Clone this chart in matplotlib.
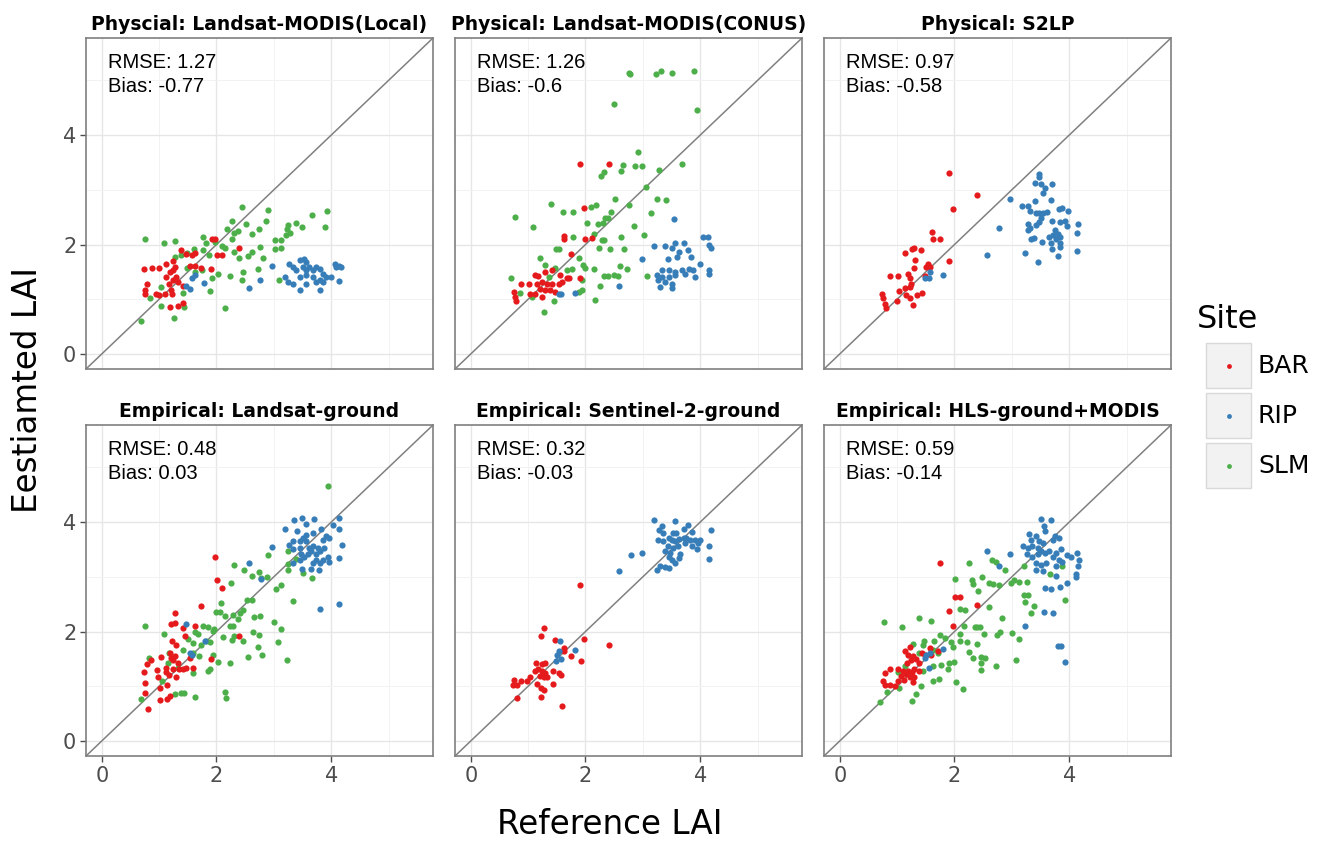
import numpy as np
import matplotlib
matplotlib.use("Agg")
import matplotlib.pyplot as plt
from matplotlib.patches import Rectangle

# panel titles and stats text, in facet order
titles = ["Physcial: Landsat-MODIS(Local)", "Physical: Landsat-MODIS(CONUS)", "Physical: S2LP",
          "Empirical: Landsat-ground", "Empirical: Sentinel-2-ground", "Empirical: HLS-ground+MODIS"]
rmse = ["1.27", "1.26", "0.97", "0.48", "0.32", "0.59"]
bias = ["-0.77", "-0.6", "-0.58", "0.03", "-0.03", "-0.14"]
sites = ["BAR", "RIP", "SLM"]
site_colors = {"BAR": "#E41A1C", "RIP": "#377EB8", "SLM": "#4DAF4A"}

# (reference, estimated) pairs
p1_bar = [(0.74,1.55),(0.87,1.58),(1.0,1.58),(0.78,1.28),(0.76,1.10),(0.75,1.16),(0.95,1.09),(1.0,1.08),
          (1.12,1.65),(1.25,1.70),(1.28,1.59),(1.12,1.41),(1.17,1.28),(1.21,1.16),(1.30,1.41),(1.25,1.35),
          (1.33,1.31),(1.19,1.50),(1.25,1.53),(1.41,1.25),(1.19,0.85),(1.33,0.87),(1.42,0.94),(1.39,1.90),
          (1.47,1.83),(1.57,1.80),(1.62,1.85),(1.53,1.61),(1.62,1.61),(1.73,1.58),(1.91,1.56),(1.92,2.11),
          (1.97,2.11),(2.01,1.80),(2.10,1.80),(2.40,1.94),(1.10,1.09),(1.23,1.10)]
p1_rip = [(2.97,1.61),(2.56,1.21),(2.76,1.35),(3.19,1.41),(3.27,1.65),(3.33,1.59),(3.39,1.53),(3.45,1.71),
          (3.52,1.74),(3.56,1.68),(3.51,1.59),(3.56,1.53),(3.62,1.59),(3.68,1.53),(3.74,1.59),(3.80,1.56),
          (3.85,1.47),(3.91,1.41),(3.80,1.35),(3.74,1.32),(3.56,1.28),(3.45,1.16),(3.80,1.16),(3.33,1.28),
          (3.24,1.32),(3.45,1.41),(3.56,1.44),(3.68,1.41),(3.85,1.32),(4.06,1.65),(4.14,1.60),(4.17,1.59),
          (3.99,1.41),(4.13,1.33),(4.09,1.59),(1.47,1.25),(1.53,1.19),(1.57,1.38),(1.79,1.30),(1.62,1.44)]
p1_slm = [(0.76,2.10),(1.08,2.02),(1.27,2.07),(0.69,0.61),(1.26,0.65),(2.15,0.84),(2.44,2.69),(2.90,2.64),
          (2.27,2.43),(2.52,2.37),(2.87,2.43),(2.19,2.28),(2.38,2.25),(2.74,2.29),(2.62,2.20),(1.77,2.13),
          (2.27,2.11),(2.30,2.21),(2.09,1.98),(2.14,1.94),(1.98,2.04),(1.82,2.03),(1.61,1.91),(1.48,1.85),
          (1.77,1.90),(1.87,1.80),(2.31,1.87),(2.39,1.75),(2.55,1.79),(2.62,1.87),(2.76,1.96),(3.02,2.08),
          (3.12,2.08),(3.22,2.17),(3.24,2.35),(3.23,2.28),(3.38,2.39),(3.49,2.32),(3.66,2.54),(3.93,2.62),
          (3.89,2.32),(3.28,2.21),(3.02,1.91),(3.13,1.94),(2.81,1.76),(2.73,1.55),(2.46,1.49),(2.24,1.43),
          (2.02,1.46),(1.92,1.38),(1.88,1.15),(1.75,1.53),(1.62,1.50),(1.48,1.57),(1.41,1.12),(1.43,0.86),
          (1.04,0.87),(1.04,1.22),(0.84,1.02),(3.09,1.35),(2.44,1.36),(1.39,1.80),(1.28,1.77)]

p2_bar = [(1.91,3.48),(2.41,3.48),(1.98,2.66),(1.62,2.16),(1.62,2.11),(1.99,2.11),(2.11,2.12),(1.75,1.82),
          (1.42,1.53),(1.12,1.44),(1.18,1.42),(1.30,1.50),(1.56,1.44),(1.67,1.39),(1.72,1.39),(1.91,1.38),
          (0.88,1.27),(1.02,1.27),(1.15,1.28),(1.24,1.31),(1.33,1.28),(1.41,1.28),(1.53,1.28),(1.59,1.31),
          (1.21,1.19),(1.30,1.16),(1.38,1.16),(1.12,1.10),(1.24,1.05),(0.76,1.13),(0.77,1.04),(0.78,0.97),
          (1.03,1.10),(1.47,1.13)]
p2_rip = [(3.54,2.47),(4.05,2.14),(4.13,2.14),(4.15,1.99),(4.19,1.94),(3.20,1.97),(3.39,1.97),(3.56,2.02),
          (3.71,2.02),(3.50,1.93),(3.63,1.87),(3.78,1.90),(3.59,1.77),(3.44,1.74),(3.84,1.77),(2.98,1.74),
          (3.99,1.65),(3.33,1.53),(3.45,1.53),(3.56,1.50),(3.68,1.53),(3.80,1.56),(3.87,1.53),(4.15,1.54),
          (4.16,1.47),(3.24,1.44),(3.33,1.41),(3.45,1.41),(3.56,1.44),(3.74,1.46),(3.91,1.41),(3.27,1.35),
          (3.39,1.32),(3.51,1.28),(3.30,1.22),(3.51,1.21),(2.58,1.25),(1.81,1.11),(1.53,1.10),(1.58,1.10)]
p2_slm = [(2.75,5.13),(2.78,5.11),(3.23,5.11),(3.32,5.17),(3.51,5.14),(3.90,5.17),(2.50,4.56),(3.95,4.45),
          (2.91,3.69),(2.66,3.46),(2.87,3.43),(2.99,3.43),(2.62,3.35),(2.32,3.33),(2.27,3.25),(3.28,3.36),
          (3.68,3.47),(3.06,3.06),(2.52,2.83),(3.24,2.84),(3.40,2.82),(2.76,2.72),(2.19,2.72),(2.10,2.69),
          (1.40,2.74),(1.60,2.59),(1.78,2.59),(2.44,2.60),(3.15,2.58),(0.77,2.50),(1.09,2.32),(2.34,2.48),
          (2.39,2.48),(2.30,2.40),(2.02,2.40),(2.21,2.37),(2.85,2.34),(3.02,2.18),(2.62,2.14),(1.78,2.13),
          (2.15,2.20),(2.28,2.09),(2.33,2.09),(2.24,1.94),(2.42,1.91),(2.67,1.91),(1.49,1.91),(1.53,1.91),
          (1.20,1.76),(1.88,1.76),(1.29,1.62),(1.46,1.58),(1.68,1.53),(1.77,1.56),(1.96,1.63),(1.99,1.58),
          (2.14,1.56),(2.60,1.60),(2.73,1.55),(2.33,1.43),(2.40,1.43),(2.49,1.44),(2.56,1.43),(3.08,1.43),
          (0.70,1.38),(1.94,1.36),(2.26,1.24),(1.94,1.16),(1.89,1.13),(1.45,0.97),(2.16,0.98),(1.27,0.76),
          (0.85,1.11),(1.06,1.04),(1.36,1.41)]

p3_bar = [(1.90,3.30),(2.39,2.91),(1.97,2.65),(1.61,2.23),(1.62,2.10),(1.74,2.10),(1.13,1.85),(1.26,1.91),
          (1.30,1.93),(1.41,1.90),(1.32,1.71),(1.29,1.57),(1.54,1.65),(1.57,1.59),(1.51,1.59),(1.91,1.69),
          (0.87,1.43),(1.01,1.43),(1.19,1.46),(1.22,1.38),(1.25,1.28),(1.22,1.22),(1.13,1.21),(1.03,1.15),
          (1.16,1.07),(1.23,1.03),(1.35,1.07),(1.43,1.12),(0.74,1.09),(0.75,1.03),(0.78,0.92),(0.81,0.84),
          (0.99,0.96),(1.28,0.90),(1.48,1.42)]
p3_rip = [(3.47,3.29),(3.47,3.24),(3.41,3.12),(3.51,3.10),(3.70,3.10),(3.58,3.03),(3.54,2.95),(3.41,2.80),
          (3.68,2.81),(2.97,2.84),(3.18,2.71),(3.28,2.71),(3.32,2.62),(3.48,2.57),(3.54,2.57),(3.42,2.57),
          (3.61,2.59),(3.83,2.65),(3.88,2.66),(3.98,2.61),(3.51,2.48),(3.70,2.43),(3.84,2.42),(3.93,2.43),
          (3.28,2.37),(3.32,2.31),(3.42,2.35),(3.48,2.41),(4.16,2.37),(3.97,2.33),(3.75,2.26),(3.28,2.26),
          (3.33,2.11),(3.39,2.12),(3.64,2.14),(3.71,2.17),(3.80,2.20),(3.77,2.11),(3.84,2.14),(3.52,2.04),
          (3.68,2.03),(3.84,2.02),(3.84,1.96),(4.13,2.21),(4.13,1.88),(3.70,1.92),(3.80,1.79),(3.23,1.85),
          (3.45,1.68),(2.56,1.80),(2.77,2.31),(1.80,1.45),(1.57,1.50),(1.48,1.38),(1.55,1.39)]
p3_slm = []

p4_bar = [(1.97,3.37),(2.01,2.95),(2.09,2.80),(1.73,2.46),(1.27,2.34),(1.27,2.15),(1.21,2.13),(1.41,2.06),
          (1.62,2.11),(1.45,1.91),(1.23,1.82),(1.30,1.76),(2.39,1.91),(1.91,1.49),(0.86,1.48),(1.03,1.53),
          (1.19,1.61),(1.21,1.52),(1.25,1.48),(1.28,1.55),(1.33,1.43),(1.12,1.34),(1.24,1.31),(1.34,1.31),
          (1.41,1.31),(1.47,1.34),(1.59,1.34),(0.78,1.40),(0.74,1.26),(0.96,1.29),(1.12,1.26),(0.98,1.17),
          (1.18,1.20),(1.29,1.16),(0.76,1.06),(1.02,0.96),(1.14,1.03),(0.76,0.88),(1.02,0.75),(1.13,0.76),
          (1.19,0.83),(0.80,0.59),(1.53,1.52)]
p4_rip = [(3.49,4.07),(3.70,4.05),(3.35,4.04),(3.56,3.96),(3.19,3.88),(3.41,3.84),(3.68,3.81),(3.56,3.77),
          (3.83,3.88),(4.04,3.94),(4.13,4.07),(4.13,3.88),(3.97,3.71),(3.91,3.74),(3.85,3.68),(4.18,3.59),
          (3.50,3.71),(3.45,3.65),(3.33,3.65),(3.27,3.59),(3.56,3.65),(3.45,3.53),(3.33,3.50),(3.62,3.53),
          (3.68,3.56),(3.77,3.53),(3.88,3.53),(3.80,3.47),(3.48,3.41),(3.53,3.37),(3.59,3.41),(3.65,3.47),
          (3.74,3.41),(3.94,3.37),(3.97,3.28),(3.85,3.31),(3.74,3.31),(3.45,3.31),(3.33,3.25),(3.68,3.25),
          (3.80,3.25),(4.13,3.34),(3.49,3.15),(3.78,3.13),(3.65,3.15),(2.97,3.54),(2.56,3.26),(2.77,2.96),
          (3.80,2.42),(4.13,2.51),(1.47,2.13),(1.80,1.82),(1.53,1.61),(1.57,1.57)]
p4_slm = [(3.94,4.66),(3.25,3.48),(2.90,3.40),(2.30,3.21),(3.38,3.33),(3.24,3.24),(3.25,3.13),(2.74,3.09),
          (2.62,3.01),(2.78,2.98),(2.88,2.99),(2.48,3.13),(3.50,3.07),(3.66,2.98),(2.26,2.88),(3.13,2.85),
          (3.04,2.78),(2.62,2.58),(3.33,2.55),(2.08,2.52),(2.53,2.57),(1.99,2.36),(2.07,2.36),(2.14,2.29),
          (2.28,2.31),(2.41,2.34),(2.46,2.39),(2.37,2.22),(2.65,2.27),(2.76,2.29),(3.00,2.18),(3.12,2.04),
          (2.23,2.11),(2.28,2.11),(1.76,2.11),(1.85,2.08),(1.95,2.05),(1.94,2.01),(1.67,1.96),(1.62,1.99),
          (2.31,1.91),(2.27,1.85),(2.46,1.82),(2.63,1.99),(2.74,1.93),(2.12,1.90),(1.89,1.81),(1.82,1.82),
          (1.73,1.76),(1.59,1.79),(1.50,1.87),(1.08,1.96),(0.76,2.10),(2.72,1.72),(3.08,1.81),(2.80,1.57),
          (2.55,1.54),(3.23,1.48),(2.24,1.43),(2.02,1.45),(1.94,1.57),(1.70,1.56),(1.59,1.61),(1.41,1.67),
          (1.18,1.61),(1.15,1.43),(1.85,1.28),(1.89,1.31),(1.59,1.25),(1.33,1.34),(1.05,1.09),(2.14,0.89),
          (2.17,0.79),(1.38,0.87),(1.43,0.87),(1.27,0.85),(1.62,0.80),(0.69,0.76),(0.83,1.52)]

p5_bar = [(1.91,2.85),(1.27,2.07),(1.22,1.91),(1.47,1.85),(1.98,1.87),(2.41,1.75),(1.62,1.70),(1.62,1.65),
          (1.75,1.56),(1.92,1.46),(1.13,1.43),(1.25,1.40),(1.30,1.42),(1.44,1.28),(1.53,1.25),(1.57,1.21),
          (1.12,1.28),(1.18,1.31),(1.24,1.28),(1.30,1.25),(1.21,1.19),(1.27,1.16),(1.33,1.16),(1.03,1.16),
          (0.98,1.09),(1.15,1.05),(1.23,0.97),(1.27,0.94),(1.43,1.05),(0.76,1.12),(0.88,1.10),(0.74,1.02),
          (0.80,1.02),(0.80,0.79),(1.23,0.81),(1.59,0.64)]
p5_rip = [(3.20,4.04),(3.56,4.02),(3.78,3.95),(3.33,3.93),(3.28,3.86),(3.71,3.88),(4.19,3.86),(3.86,3.82),
          (3.36,3.80),(3.52,3.80),(3.58,3.80),(3.45,3.71),(3.51,3.68),(3.56,3.65),(3.63,3.69),(3.71,3.71),
          (3.76,3.71),(3.83,3.68),(3.91,3.68),(3.99,3.68),(3.27,3.67),(3.36,3.65),(3.74,3.62),(3.85,3.57),
          (3.96,3.62),(3.44,3.56),(3.53,3.53),(3.61,3.57),(4.15,3.56),(3.94,3.50),(3.39,3.47),(3.48,3.44),
          (3.45,3.37),(3.65,3.41),(3.63,3.35),(3.51,3.31),(3.56,3.25),(3.30,3.19),(3.39,3.18),(3.45,3.16),
          (3.24,3.13),(4.16,3.32),(2.98,3.44),(2.79,3.39),(2.58,3.10),(1.56,1.83),(1.54,1.64),(1.81,1.66),
          (1.50,1.57),(1.58,1.50),(1.48,1.46)]
p5_slm = []

p6_bar = [(1.74,3.25),(2.01,2.64),(2.09,2.64),(2.39,2.49),(1.90,2.37),(1.97,2.11),(1.57,1.69),(1.71,1.65),
          (1.44,1.61),(1.48,1.57),(1.59,1.57),(1.13,1.64),(1.22,1.72),(1.19,1.58),(1.27,1.55),(1.25,1.48),
          (1.33,1.49),(1.38,1.43),(1.17,1.43),(0.87,1.31),(1.01,1.31),(1.10,1.28),(1.19,1.28),(1.26,1.26),
          (1.30,1.31),(1.39,1.28),(1.16,1.22),(1.23,1.16),(1.30,1.16),(1.06,1.19),(1.01,1.10),(1.12,1.11),
          (1.28,1.07),(0.75,1.10),(0.78,1.02),(0.87,1.02),(0.97,1.00),(0.78,1.25)]
p6_rip = [(3.50,4.05),(3.68,4.04),(3.56,3.92),(3.58,3.83),(3.75,3.75),(3.30,3.78),(3.42,3.74),(3.33,3.68),
          (3.48,3.65),(3.54,3.62),(3.83,3.71),(3.71,3.67),(3.19,3.56),(3.28,3.53),(3.36,3.56),(3.45,3.53),
          (3.51,3.47),(3.57,3.44),(3.65,3.47),(3.77,3.44),(3.86,3.50),(3.26,3.41),(3.36,3.37),(3.45,3.41),
          (3.71,3.37),(3.97,3.39),(4.03,3.37),(4.13,3.43),(4.17,3.30),(3.83,3.31),(3.88,3.28),(3.42,3.25),
          (3.51,3.22),(3.59,3.26),(3.77,3.19),(4.15,3.20),(3.42,3.13),(3.54,3.10),(3.77,3.01),(4.12,3.06),
          (4.12,3.00),(3.97,2.89),(3.84,2.81),(3.57,2.80),(3.68,2.77),(2.56,3.47),(2.97,3.42),(2.77,3.20),
          (3.56,2.36),(3.71,2.34),(3.23,2.10),(3.81,1.73),(3.86,1.73),(3.93,1.44),(1.80,1.68),(1.51,1.57),
          (1.57,1.61),(1.48,1.52),(1.55,1.34)]
p6_slm = [(3.88,3.20),(2.25,3.25),(2.65,3.30),(2.72,3.28),(2.88,3.12),(3.22,3.19),(3.67,3.05),(2.01,2.96),
          (2.31,2.95),(2.48,3.00),(3.03,2.95),(3.13,2.91),(3.27,2.91),(2.32,2.86),(2.60,2.88),(2.67,2.86),
          (2.99,2.88),(2.77,2.85),(2.41,2.75),(3.22,2.66),(3.29,2.67),(3.23,2.54),(3.38,2.47),(3.93,2.58),
          (2.09,2.42),(2.19,2.39),(2.61,2.44),(3.33,2.33),(2.83,2.24),(1.39,2.24),(1.59,2.20),(0.77,2.17),
          (1.08,2.08),(2.17,2.11),(2.35,2.08),(2.39,2.08),(2.44,2.08),(2.51,1.96),(2.74,1.93),(2.80,1.99),
          (3.00,1.98),(3.12,1.86),(2.09,1.95),(1.75,1.93),(1.84,1.88),(1.94,1.81),(1.97,1.72),(2.10,1.82),
          (2.22,1.81),(2.39,1.78),(1.65,1.82),(1.47,1.82),(1.45,1.76),(1.28,1.78),(1.39,1.61),(1.62,1.67),
          (1.71,1.61),(2.26,1.63),(2.32,1.52),(2.47,1.53),(2.54,1.52),(2.47,1.42),(2.47,1.29),(2.73,1.37),
          (3.07,1.48),(2.00,1.45),(1.91,1.43),(1.77,1.39),(1.88,1.31),(1.62,1.37),(1.45,1.28),(1.73,1.14),
          (1.62,1.09),(2.02,1.08),(2.15,0.95),(1.42,1.00),(1.33,0.85),(1.26,0.73),(1.04,0.97),(0.70,0.71),
          (0.83,0.89),(1.01,1.26),(1.13,1.37)]

panels = [
    {"BAR": p1_bar, "RIP": p1_rip, "SLM": p1_slm},
    {"BAR": p2_bar, "RIP": p2_rip, "SLM": p2_slm},
    {"BAR": p3_bar, "RIP": p3_rip, "SLM": p3_slm},
    {"BAR": p4_bar, "RIP": p4_rip, "SLM": p4_slm},
    {"BAR": p5_bar, "RIP": p5_rip, "SLM": p5_slm},
    {"BAR": p6_bar, "RIP": p6_rip, "SLM": p6_slm},
]

W, H = 1324, 841
fig = plt.figure(figsize=(W / 100, H / 100), dpi=100)

lefts = [86, 455, 824]
tops = [38, 425]
pw, ph = 347, 331
lim = (-0.275, 5.775)
border = "#7f7f7f"

for i, data in enumerate(panels):
    r, c = divmod(i, 3)
    ax = fig.add_axes([lefts[c] / W, 1 - (tops[r] + ph) / H, pw / W, ph / H])
    ax.set_xlim(lim)
    ax.set_ylim(lim)
    ax.set_xticks([0, 2, 4])
    ax.set_yticks([0, 2, 4])
    ax.set_xticks([1, 3, 5], minor=True)
    ax.set_yticks([1, 3, 5], minor=True)
    ax.grid(True, which="major", color="#e6e6e6", lw=1.0)
    ax.grid(True, which="minor", color="#f2f2f2", lw=0.7)
    ax.set_axisbelow(True)
    for s in ax.spines.values():
        s.set_color(border)
        s.set_linewidth(1.2)
    ax.tick_params(which="major", length=4, width=1, color="#4d4d4d",
                   labelsize=15, labelcolor="#4d4d4d", pad=3)
    ax.tick_params(which="minor", length=0)
    if c != 0:
        ax.tick_params(axis="y", which="major", left=False, labelleft=False)
    if r != 1:
        ax.tick_params(axis="x", which="major", bottom=False, labelbottom=False)

    ax.axline((0, 0), slope=1, color="#808080", lw=1.1, zorder=2)
    for site in ["SLM", "BAR", "RIP"]:
        pts = np.array(data[site]).reshape(-1, 2)
        if len(pts):
            ax.scatter(pts[:, 0], pts[:, 1], s=20, color=site_colors[site],
                       linewidths=0, zorder=3)

    ax.text(0.1, 5.5, f"RMSE: {rmse[i]}\nBias: {bias[i]}", ha="left", va="top",
            fontsize=14.5, family="Liberation Sans", linespacing=1.32)
    ax.set_title(titles[i], fontsize=13.5, fontweight="bold", pad=6)

fig.text(610 / W, 1 - 825 / H, "Reference LAI", ha="center", va="center", fontsize=23.5)
fig.text(28 / W, 1 - 390 / H, "Eestiamted LAI", ha="center", va="center",
         rotation=90, fontsize=23.5)

# legend drawn by hand: grey key boxes with a small dot
lax = fig.add_axes([0, 0, 1, 1], facecolor="none")
lax.set_xlim(0, W)
lax.set_ylim(H, 0)
lax.axis("off")
lax.text(1197, 320, "Site", ha="left", va="center", fontsize=23)
for k, site in enumerate(sites):
    y0 = 343 + k * 50
    lax.add_patch(Rectangle((1206, y0), 45, 45, facecolor="#f2f2f2",
                            edgecolor="#d9d9d9", lw=1))
    lax.scatter([1228.5], [y0 + 22.5], s=12, color=site_colors[site], linewidths=0)
    lax.text(1258, y0 + 22.5, site, ha="left", va="center", fontsize=18)

fig.savefig("out.png", dpi=100)
